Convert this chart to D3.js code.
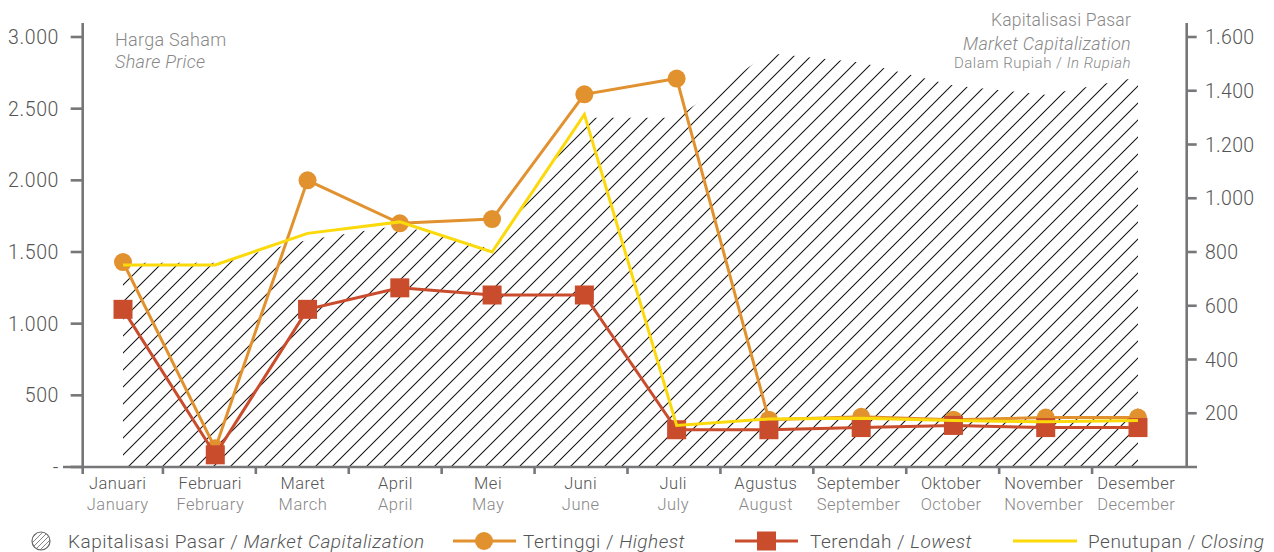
<!DOCTYPE html>
<html>
<head>
<meta charset="utf-8">
<script src="https://cdn.jsdelivr.net/npm/d3@7"></script>
<style>
  body { margin: 0; background: #fff; }
  svg { display: block; font-family: Roboto, "Liberation Sans", sans-serif; font-weight: 300; }
</style>
</head>
<body>
<svg id="chart" width="1274" height="552"></svg>
<script>
// month labels, two languages
var bulan = ['Januari', 'Februari', 'Maret', 'April', 'Mei', 'Juni', 'Juli', 'Agustus', 'September', 'Oktober', 'November', 'Desember'];
var months = ['January', 'February', 'March', 'April', 'May', 'June', 'July', 'August', 'September', 'October', 'November', 'December'];

// share price (left axis)
var highest = [1430, 130, 2000, 1700, 1730, 2600, 2710, 330, 350, 330, 345, 345];
var lowest = [1100, 85, 1100, 1250, 1200, 1200, 260, 260, 275, 290, 275, 275];
var closing = [1410, 1410, 1630, 1710, 1500, 2460, 290, 335, 340, 325, 315, 325];

// market capitalization (right axis)
var marketCap = [760, 760, 845, 900, 810, 1300, 1300, 1540, 1505, 1420, 1385, 1450];

var leftTicks = [0, 500, 1000, 1500, 2000, 2500, 3000];
var rightTicks = [200, 400, 600, 800, 1000, 1200, 1400, 1600];

var cOrange = '#e2912f', cRed = '#c94c2d', cYellow = '#fcd90a';
var cAxis = '#77777a', cText = '#555', cLight = '#888';

var svg = d3.select('#chart');
var fmt = d3.formatLocale({decimal: ',', thousands: '.', grouping: [3], currency: ['', '']}).format(',');

// band scale for tick marks between months, point scale for the marks
var x = d3.scaleBand().domain(bulan).range([70, 1185]);
var xp = d3.scalePoint().domain(bulan).range([123, 1138]);
var yL = d3.scaleLinear().domain([0, 3000]).range([467, 37]);
var yR = d3.scaleLinear().domain([0, 1600]).range([467, 37]);
var px = function(i) { return xp(bulan[i]); };

var leftX = 82.7, rightX = 1186.7, baseY = 467;

// hatch pattern
var defs = svg.append('defs');
var pat = defs.append('pattern')
	.attr('id', 'hatch')
	.attr('patternUnits', 'userSpaceOnUse')
	.attr('width', 17).attr('height', 17);
pat.append('path')
	.attr('d', 'M0,17 L17,0 M-4,4 L4,-4 M13,21 L21,13')
	.attr('stroke', '#111').attr('stroke-width', 1.05);
var pat2 = defs.append('pattern')
	.attr('id', 'hatchSmall')
	.attr('patternUnits', 'userSpaceOnUse')
	.attr('width', 5).attr('height', 5);
pat2.append('path')
	.attr('d', 'M0,5 L5,0 M-1,1 L1,-1 M4,6 L6,4')
	.attr('stroke', '#666').attr('stroke-width', 0.8);

// market cap area
var area = d3.area()
	.x(function(d, i) { return px(i); })
	.y0(baseY)
	.y1(function(d) { return yR(d); });
svg.append('path')
	.datum(marketCap)
	.attr('d', area)
	.attr('fill', 'url(#hatch)');

// axes
var axes = svg.append('g').attr('stroke', cAxis).attr('stroke-width', 2.6);
axes.append('line').attr('x1', leftX).attr('x2', leftX).attr('y1', 23).attr('y2', 474);
axes.append('line').attr('x1', rightX).attr('x2', rightX).attr('y1', 23).attr('y2', baseY);
axes.append('line').attr('x1', 63).attr('x2', 1197).attr('y1', baseY).attr('y2', baseY);

axes.selectAll('.lt').data(leftTicks).enter().append('line')
	.attr('x1', leftX - 12).attr('x2', leftX)
	.attr('y1', function(d) { return yL(d); })
	.attr('y2', function(d) { return yL(d); });
axes.selectAll('.rt').data(rightTicks).enter().append('line')
	.attr('x1', rightX).attr('x2', rightX + 10)
	.attr('y1', function(d) { return yR(d); })
	.attr('y2', function(d) { return yR(d); });
axes.selectAll('.xt').data(bulan.slice(1)).enter().append('line')
	.attr('x1', function(d) { return x(d); })
	.attr('x2', function(d) { return x(d); })
	.attr('y1', baseY).attr('y2', baseY + 7);

svg.selectAll('.ll').data(leftTicks).enter().append('text')
	.attr('x', 59).attr('y', function(d) { return yL(d); })
	.attr('dy', '0.36em')
	.attr('text-anchor', 'end')
	.attr('font-size', 19.5).attr('letter-spacing', 0.6).attr('fill', cText)
	.text(function(d) { return d === 0 ? '-' : fmt(d); });
svg.selectAll('.rl').data(rightTicks).enter().append('text')
	.attr('x', 1205).attr('y', function(d) { return yR(d); })
	.attr('dy', '0.36em')
	.attr('font-size', 19.5).attr('letter-spacing', 0.3).attr('fill', cText)
	.text(function(d) { return fmt(d); });

// month labels
var labX = function(i) { return (x(bulan[i]) + x.bandwidth() / 2 + xp(bulan[i])) / 2 - 2; };
svg.selectAll('.m1').data(bulan).enter().append('text')
	.attr('x', function(d, i) { return labX(i); })
	.attr('y', 489).attr('text-anchor', 'middle')
	.attr('font-size', 16.5).attr('letter-spacing', 0.5).attr('fill', cText)
	.text(function(d) { return d; });
svg.selectAll('.m2').data(months).enter().append('text')
	.attr('x', function(d, i) { return labX(i); })
	.attr('y', 510).attr('text-anchor', 'middle')
	.attr('font-size', 16.5).attr('letter-spacing', 0.5).attr('fill', cLight)
	.text(function(d) { return d; });

// titles
svg.append('text').attr('x', 115).attr('y', 46).attr('font-size', 18).attr('letter-spacing', 0.3)
	.attr('fill', cLight).text('Harga Saham');
svg.append('text').attr('x', 115).attr('y', 68).attr('font-size', 18).attr('letter-spacing', 0.3)
	.attr('fill', cLight).attr('font-style', 'italic').text('Share Price');
svg.append('text').attr('x', 1131).attr('y', 26).attr('font-size', 17.5).attr('letter-spacing', 0.2)
	.attr('fill', cLight).attr('text-anchor', 'end').text('Kapitalisasi Pasar');
svg.append('text').attr('x', 1131).attr('y', 50).attr('font-size', 18).attr('letter-spacing', 0.3)
	.attr('fill', cLight).attr('text-anchor', 'end').attr('font-style', 'italic').text('Market Capitalization');
var sub = svg.append('text').attr('x', 1131).attr('y', 68).attr('font-size', 15).attr('letter-spacing', 0.5)
	.attr('fill', cLight).attr('text-anchor', 'end');
sub.append('tspan').text('Dalam Rupiah / ');
sub.append('tspan').attr('font-style', 'italic').text('In Rupiah');

// series lines
var line = function(scale) {
	return d3.line()
		.x(function(d, i) { return px(i); })
		.y(function(d) { return scale(d); });
};

svg.append('path').datum(highest).attr('d', line(yL))
	.attr('fill', 'none').attr('stroke', cOrange).attr('stroke-width', 3);
svg.selectAll('.hc').data(highest).enter().append('circle')
	.attr('cx', function(d, i) { return px(i); })
	.attr('cy', function(d) { return yL(d); })
	.attr('r', 9).attr('fill', cOrange);

svg.append('path').datum(lowest).attr('d', line(yL))
	.attr('fill', 'none').attr('stroke', cRed).attr('stroke-width', 3);
svg.selectAll('.ls').data(lowest).enter().append('rect')
	.attr('x', function(d, i) { return px(i) - 9.5; })
	.attr('y', function(d) { return yL(d) - 9.5; })
	.attr('width', 19).attr('height', 19).attr('fill', cRed);

svg.append('path').datum(closing).attr('d', line(yL))
	.attr('fill', 'none').attr('stroke', cYellow).attr('stroke-width', 3);

// legend
var lg = svg.append('g').attr('font-size', 19).attr('letter-spacing', 0.5).attr('fill', cText);
lg.append('circle').attr('cx', 41).attr('cy', 541).attr('r', 9)
	.attr('fill', 'url(#hatchSmall)').attr('stroke', '#666').attr('stroke-width', 1.2);
var t1 = lg.append('text').attr('x', 68).attr('y', 548);
t1.append('tspan').text('Kapitalisasi Pasar / ');
t1.append('tspan').attr('font-style', 'italic').text('Market Capitalization');

lg.append('line').attr('x1', 453).attr('x2', 516).attr('y1', 541).attr('y2', 541)
	.attr('stroke', cOrange).attr('stroke-width', 3);
lg.append('circle').attr('cx', 484).attr('cy', 541).attr('r', 9).attr('fill', cOrange);
var t2 = lg.append('text').attr('x', 523).attr('y', 548);
t2.append('tspan').text('Tertinggi / ');
t2.append('tspan').attr('font-style', 'italic').text('Highest');

lg.append('line').attr('x1', 735).attr('x2', 798).attr('y1', 541).attr('y2', 541)
	.attr('stroke', cRed).attr('stroke-width', 3);
lg.append('rect').attr('x', 757).attr('y', 531.5).attr('width', 19).attr('height', 19).attr('fill', cRed);
var t3 = lg.append('text').attr('x', 810).attr('y', 548);
t3.append('tspan').text('Terendah / ');
t3.append('tspan').attr('font-style', 'italic').text('Lowest');

lg.append('line').attr('x1', 1013).attr('x2', 1077).attr('y1', 541).attr('y2', 541)
	.attr('stroke', cYellow).attr('stroke-width', 3);
var t4 = lg.append('text').attr('x', 1088).attr('y', 548);
t4.append('tspan').text('Penutupan / ');
t4.append('tspan').attr('font-style', 'italic').text('Closing');
</script>
</body>
</html>
